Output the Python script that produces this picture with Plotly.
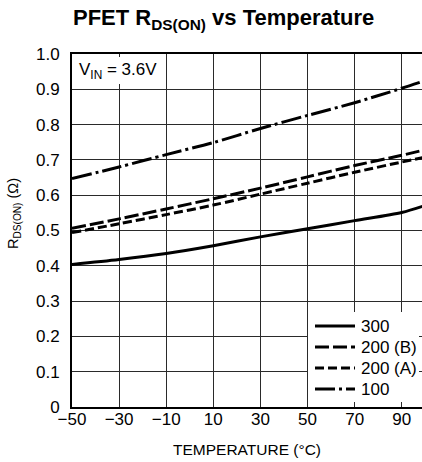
import plotly.graph_objects as go

# ---- data ----
temperature = [-50, -30, -10, 10, 30, 50, 70, 90, 100]
r_300 = [0.404, 0.418, 0.435, 0.457, 0.482, 0.505, 0.528, 0.551, 0.571]
r_200b = [0.506, 0.533, 0.561, 0.590, 0.620, 0.652, 0.684, 0.713, 0.729]
r_200a = [0.494, 0.519, 0.545, 0.572, 0.603, 0.634, 0.665, 0.694, 0.708]
r_100 = [0.647, 0.680, 0.715, 0.749, 0.789, 0.826, 0.862, 0.903, 0.925]

series_names = ["300", "200 (B)", "200 (A)", "100"]
series_values = [r_300, r_200b, r_200a, r_100]
series_dash = ["solid", "14px,4px", "9px,4px", "20px,4px,3px,4px"]

x_tickvals = [-50, -30, -10, 10, 30, 50, 70, 90]
x_ticktext = ["\u221250", "\u221230", "\u221210", "10", "30", "50", "70", "90"]
y_tickvals = [0, 0.1, 0.2, 0.3, 0.4, 0.5, 0.6, 0.7, 0.8, 0.9, 1.0]
y_ticktext = ["0", "0.1", "0.2", "0.3", "0.4", "0.5", "0.6", "0.7", "0.8", "0.9", "1.0"]

FONT = "Liberation Sans, Arial, sans-serif"

W, H = 422, 462
ML, MR, MT, MB = 72, 0, 54, 55
PW = W - ML - MR
PH = H - MT - MB


def px(x):
    return (x - ML) / PW


def py(y):
    return (H - MB - y) / PH


fig = go.Figure()
for name, vals, dash in zip(series_names, series_values, series_dash):
    fig.add_trace(go.Scatter(
        x=temperature, y=vals, mode="lines", name=name,
        line=dict(color="black", width=3, dash=dash, shape="spline", smoothing=0.8),
        showlegend=False, hoverinfo="skip",
    ))

fig.update_layout(
    width=W, height=H,
    margin=dict(l=ML, r=MR, t=MT, b=MB, pad=0),
    paper_bgcolor="white", plot_bgcolor="white",
    font=dict(family=FONT, size=17, color="black"),
    showlegend=False,
)

fig.update_xaxes(
    range=[-50, 98.6], tickvals=x_tickvals, ticktext=x_ticktext,
    showgrid=True, gridcolor="#2a2a2a", gridwidth=1,
    showline=True, linecolor="black", linewidth=2, mirror=True,
    ticks="", zeroline=False, ticklabelstandoff=-4,
    tickfont=dict(family=FONT, size=17),
)
fig.update_yaxes(
    range=[0, 1.0], tickvals=y_tickvals, ticktext=y_ticktext,
    showgrid=True, gridcolor="#2a2a2a", gridwidth=1,
    showline=True, linecolor="black", linewidth=2,
    ticks="", zeroline=False, ticklabelstandoff=7,
    tickfont=dict(family=FONT, size=17),
)

shapes = []
annotations = []

# VIN label box
shapes.append(dict(type="rect", xref="paper", yref="paper",
                   x0=px(73.5), x1=px(163), y0=py(84), y1=py(57),
                   fillcolor="white", line=dict(width=0), layer="above"))
annotations.append(dict(xref="paper", yref="paper", x=px(77), y=py(71),
                        xanchor="left", yanchor="middle", showarrow=False,
                        text="V<sub>IN</sub> = 3.6V",
                        font=dict(family=FONT, size=17)))

# Legend box
shapes.append(dict(type="rect", xref="paper", yref="paper",
                   x0=px(308), x1=px(419), y0=py(402), y1=py(312),
                   fillcolor="white", line=dict(width=0), layer="above"))
legend_y = [326, 347, 368, 389]
for name, dash, ly in zip(series_names, series_dash, legend_y):
    shapes.append(dict(type="line", xref="paper", yref="paper",
                       x0=px(315), x1=px(355), y0=py(ly), y1=py(ly),
                       line=dict(color="black", width=3, dash=dash), layer="above"))
    annotations.append(dict(xref="paper", yref="paper", x=px(359), y=py(ly),
                            xanchor="left", yanchor="middle", showarrow=False,
                            text=name, font=dict(family=FONT, size=17)))

# Title
annotations.append(dict(xref="paper", yref="paper", x=px(223), y=py(19),
                        xanchor="center", yanchor="middle", showarrow=False,
                        text="<b>PFET R<sub>DS(ON)</sub> vs Temperature</b>",
                        font=dict(family=FONT, size=22)))

# Axis titles
annotations.append(dict(xref="paper", yref="paper", x=px(247), y=py(449),
                        xanchor="center", yanchor="middle", showarrow=False,
                        text="TEMPERATURE (\u00b0C)",
                        font=dict(family=FONT, size=15.5)))
annotations.append(dict(xref="paper", yref="paper", x=px(14), y=py(214),
                        xanchor="center", yanchor="middle", showarrow=False,
                        textangle=-90,
                        text="R<sub>DS(ON)</sub> (\u03a9)",
                        font=dict(family=FONT, size=14.5)))

fig.update_layout(shapes=shapes, annotations=annotations)
fig.write_html("out.html",
               config={"displayModeBar": False, "staticPlot": True},
               post_script="document.body.style.margin='0';document.body.style.padding='0';")
